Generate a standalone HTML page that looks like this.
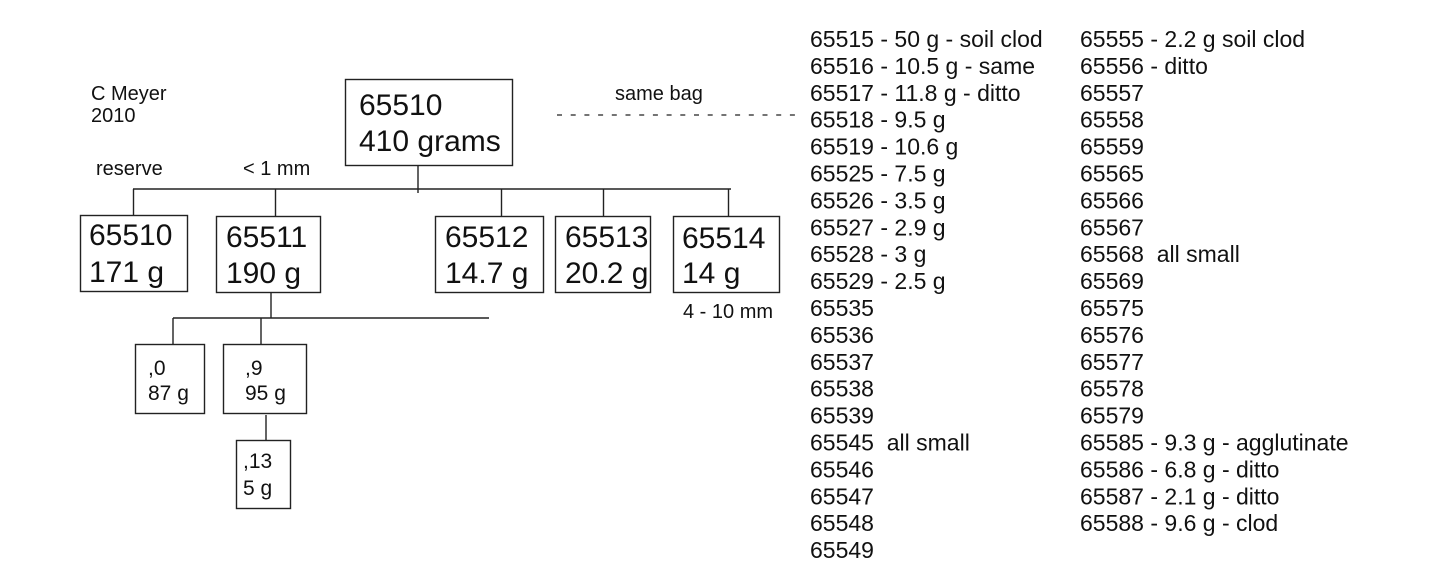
<!DOCTYPE html>
<html><head><meta charset="utf-8"><style>
html,body{margin:0;padding:0;background:#fff;}
svg{display:block;}
text{font-family:"Liberation Sans",Arial,sans-serif;fill:#111;}
</style></head><body>
<svg width="1444" height="565" viewBox="0 0 1444 565" xmlns="http://www.w3.org/2000/svg">
<g stroke="#222" stroke-width="1.4" fill="none">
<rect x="345.5" y="79.5" width="167" height="86"/>
<line x1="418" y1="165" x2="418" y2="193"/>
<line x1="133" y1="189" x2="731" y2="189"/>
<line x1="133.5" y1="189" x2="133.5" y2="215"/>
<line x1="275.5" y1="189" x2="275.5" y2="216"/>
<line x1="501.5" y1="189" x2="501.5" y2="216"/>
<line x1="603.5" y1="189" x2="603.5" y2="216"/>
<line x1="728.5" y1="189" x2="728.5" y2="216"/>
<rect x="80.5" y="215.5" width="107" height="76"/>
<rect x="216.5" y="216.5" width="104" height="76"/>
<rect x="435.5" y="216.5" width="108" height="76"/>
<rect x="555.5" y="216.5" width="95" height="76"/>
<rect x="673.5" y="216.5" width="106" height="76"/>
<line x1="271" y1="292" x2="271" y2="318"/>
<line x1="173" y1="318" x2="489" y2="318"/>
<line x1="173" y1="318" x2="173" y2="344"/>
<line x1="261" y1="318" x2="261" y2="344"/>
<rect x="135.5" y="344.5" width="69" height="69"/>
<rect x="223.5" y="344.5" width="83" height="69"/>
<line x1="266" y1="415" x2="266" y2="440"/>
<rect x="236.5" y="440.5" width="54" height="68"/>
<line x1="557" y1="115" x2="800" y2="115" stroke-dasharray="5 8.7" stroke-width="1.2"/>
</g>
<g font-size="20">
<text x="91" y="100">C Meyer</text>
<text x="91" y="122">2010</text>
<text x="96" y="175">reserve</text>
<text x="243" y="175">&lt; 1 mm</text>
<text x="615" y="100">same bag</text>
<text x="683" y="318">4 - 10 mm</text>
</g>
<g font-size="30">
<text x="359" y="115">65510</text>
<text x="359" y="151">410 grams</text>
<text x="89" y="245">65510</text><text x="89" y="282">171 g</text>
<text x="226" y="247">65511</text><text x="226" y="283">190 g</text>
<text x="445" y="247">65512</text><text x="445" y="283">14.7 g</text>
<text x="565" y="247">65513</text><text x="565" y="283">20.2 g</text>
<text x="682" y="248">65514</text><text x="682" y="283">14 g</text>
</g>
<g font-size="21">
<text x="148" y="375">,0</text><text x="148" y="400">87 g</text>
<text x="245" y="375">,9</text><text x="245" y="400">95 g</text>
<text x="243" y="468">,13</text><text x="243" y="495">5 g</text>
</g>
<g font-size="23">
<text x="810" y="47">65515 - 50 g - soil clod</text>
<text x="810" y="73.9">65516 - 10.5 g - same</text>
<text x="810" y="100.8">65517 - 11.8 g - ditto</text>
<text x="810" y="127.7">65518 - 9.5 g</text>
<text x="810" y="154.6">65519 - 10.6 g</text>
<text x="810" y="181.5">65525 - 7.5 g</text>
<text x="810" y="208.4">65526 - 3.5 g</text>
<text x="810" y="235.3">65527 - 2.9 g</text>
<text x="810" y="262.2">65528 - 3 g</text>
<text x="810" y="289.1">65529 - 2.5 g</text>
<text x="810" y="316">65535</text>
<text x="810" y="342.9">65536</text>
<text x="810" y="369.8">65537</text>
<text x="810" y="396.7">65538</text>
<text x="810" y="423.6">65539</text>
<text x="810" y="450.5">65545 &#160;all small</text>
<text x="810" y="477.4">65546</text>
<text x="810" y="504.3">65547</text>
<text x="810" y="531.2">65548</text>
<text x="810" y="558.1">65549</text>

<text x="1080" y="47">65555 - 2.2 g soil clod</text>
<text x="1080" y="73.9">65556 - ditto</text>
<text x="1080" y="100.8">65557</text>
<text x="1080" y="127.7">65558</text>
<text x="1080" y="154.6">65559</text>
<text x="1080" y="181.5">65565</text>
<text x="1080" y="208.4">65566</text>
<text x="1080" y="235.3">65567</text>
<text x="1080" y="262.2">65568 &#160;all small</text>
<text x="1080" y="289.1">65569</text>
<text x="1080" y="316">65575</text>
<text x="1080" y="342.9">65576</text>
<text x="1080" y="369.8">65577</text>
<text x="1080" y="396.7">65578</text>
<text x="1080" y="423.6">65579</text>
<text x="1080" y="450.5">65585 - 9.3 g - agglutinate</text>
<text x="1080" y="477.4">65586 - 6.8 g - ditto</text>
<text x="1080" y="504.3">65587 - 2.1 g - ditto</text>
<text x="1080" y="531.2">65588 - 9.6 g - clod</text>
</g>
</svg>
</body></html>
